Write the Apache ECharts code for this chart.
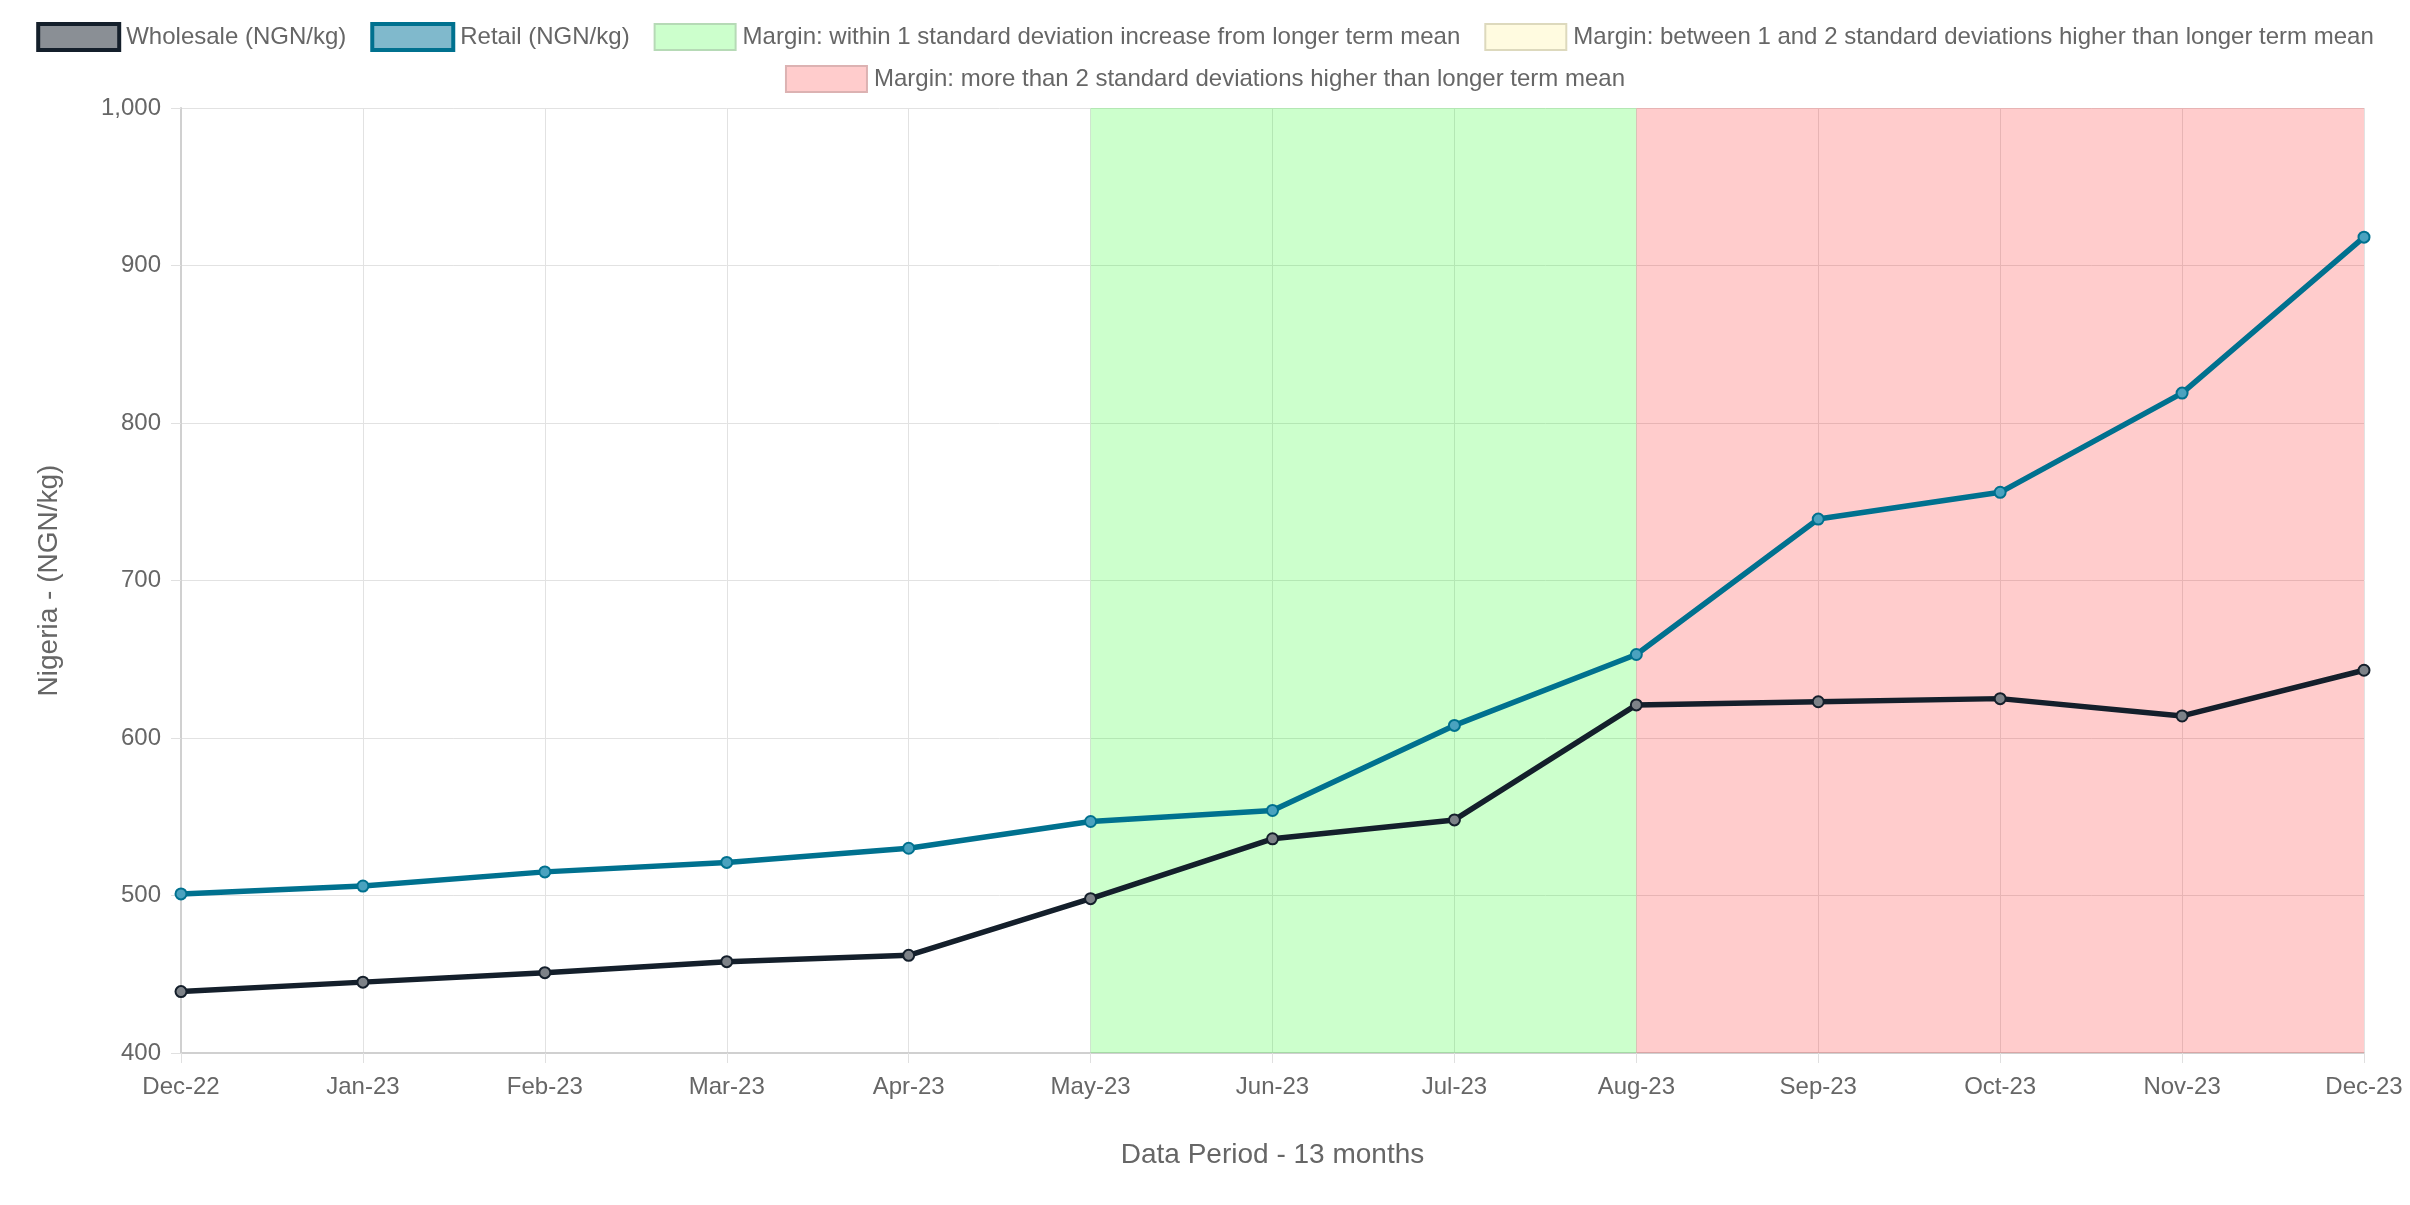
<!DOCTYPE html>
<html>
<head>
<meta charset="utf-8">
<script src="https://cdn.jsdelivr.net/npm/echarts@6/dist/echarts.min.js"></script>
<style>
html,body{margin:0;padding:0;background:#fff;}
#chart{width:2410px;height:1205px;}
</style>
</head>
<body>
<div id="chart"></div>
<script>
const categories = ['Dec-22','Jan-23','Feb-23','Mar-23','Apr-23','May-23','Jun-23','Jul-23','Aug-23','Sep-23','Oct-23','Nov-23','Dec-23'];
const wholesale = [439, 445, 451, 458, 462, 498, 536, 548, 621, 623, 625, 614, 643];
const retail = [501, 506, 515, 521, 530, 547, 554, 608, 653, 739, 756, 819, 918];
const greenBand = ['May-23', 'Aug-23'];
const redBand = ['Aug-23', 'Dec-23'];
const yTicks = {min: 400, max: 1000, interval: 100};

const seriesNames = {
  w: 'Wholesale (NGN/kg)',
  r: 'Retail (NGN/kg)',
  g: 'Margin: within 1 standard deviation increase from longer term mean',
  y: 'Margin: between 1 and 2 standard deviations higher than longer term mean',
  red: 'Margin: more than 2 standard deviations higher than longer term mean'
};

const font = 'Liberation Sans, Arial, Helvetica, sans-serif';
const chart = echarts.init(document.getElementById('chart'), null, {renderer: 'canvas'});

const legendText = {color: '#666', fontSize: 24, fontFamily: font, padding: [0, 0, 0, 2]};

chart.setOption({
  animation: false,
  backgroundColor: '#fff',
  legend: [
    {
      top: 17, left: 'center', itemWidth: 81, itemHeight: 26, itemGap: 24, icon: 'rect',
      textStyle: legendText,
      data: [
        {name: seriesNames.w, itemStyle: {color: '#8a8f95', borderColor: '#141f2b', borderWidth: 4}},
        {name: seriesNames.r, itemStyle: {color: '#80b9cc', borderColor: '#00718f', borderWidth: 4}},
        {name: seriesNames.g, itemStyle: {color: '#ccffcc', borderColor: '#b6dab6', borderWidth: 2}},
        {name: seriesNames.y, itemStyle: {color: '#fffbe0', borderColor: '#ddd9bd', borderWidth: 2}}
      ]
    },
    {
      top: 60, left: 'center', itemWidth: 81, itemHeight: 26, itemGap: 24, icon: 'rect',
      textStyle: legendText,
      data: [
        {name: seriesNames.red, itemStyle: {color: '#ffcccc', borderColor: '#dcb2b2', borderWidth: 2}}
      ]
    }
  ],
  grid: {left: 181, right: 46, top: 108, bottom: 152, containLabel: false},
  xAxis: {
    type: 'category',
    data: categories,
    boundaryGap: false,
    name: 'Data Period - 13 months',
    nameLocation: 'middle',
    nameGap: 88,
    nameTextStyle: {color: '#666', fontSize: 28, fontFamily: font},
    axisLine: {show: true, lineStyle: {color: '#d0d0d0', width: 2}},
    axisTick: {show: true, length: 10, lineStyle: {color: '#e0e0e0', width: 1}},
    axisLabel: {color: '#666', fontSize: 24, fontFamily: font, margin: 22},
    splitLine: {show: true, lineStyle: {color: '#e2e2e2', width: 1}}
  },
  yAxis: {
    type: 'value',
    min: yTicks.min, max: yTicks.max, interval: yTicks.interval,
    name: 'Nigeria - (NGN/kg)',
    nameLocation: 'middle',
    nameGap: 118,
    nameTextStyle: {color: '#666', fontSize: 28, fontFamily: font},
    axisLine: {show: true, lineStyle: {color: '#d0d0d0', width: 2}},
    axisTick: {show: true, length: 10, lineStyle: {color: '#e0e0e0', width: 1}},
    axisLabel: {color: '#666', fontSize: 24, fontFamily: font, margin: 20,
      formatter: v => v.toLocaleString('en-US')},
    splitLine: {show: true, lineStyle: {color: '#e2e2e2', width: 1}}
  },
  series: [
    {
      name: seriesNames.g, type: 'line', data: [], z: 1,
      itemStyle: {color: '#ccffcc'},
      markArea: {silent: true, itemStyle: {color: 'rgba(0,255,0,0.2)'},
        data: [[{xAxis: greenBand[0]}, {xAxis: greenBand[1]}]]}
    },
    {
      name: seriesNames.y, type: 'line', data: [], z: 1,
      itemStyle: {color: '#fffbe0'}
    },
    {
      name: seriesNames.red, type: 'line', data: [], z: 1,
      itemStyle: {color: '#ffcccc'},
      markArea: {silent: true, itemStyle: {color: 'rgba(255,0,0,0.2)'},
        data: [[{xAxis: redBand[0]}, {xAxis: redBand[1]}]]}
    },
    {
      name: seriesNames.w, type: 'line', data: wholesale, z: 4,
      symbol: 'circle', symbolSize: 11,
      lineStyle: {color: '#141f2b', width: 5.5},
      itemStyle: {color: '#7d8288', borderColor: '#141f2b', borderWidth: 2}
    },
    {
      name: seriesNames.r, type: 'line', data: retail, z: 4,
      symbol: 'circle', symbolSize: 11,
      lineStyle: {color: '#00718f', width: 5.5},
      itemStyle: {color: '#4aa2bf', borderColor: '#00718f', borderWidth: 2}
    }
  ]
});
</script>
</body>
</html>
